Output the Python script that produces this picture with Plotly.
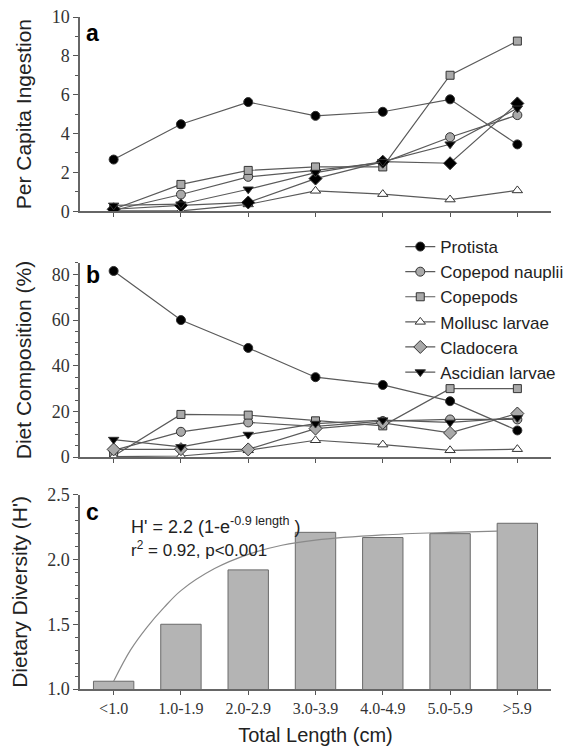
import plotly.graph_objects as go

categories = ["<1.0", "1.0-1.9", "2.0-2.9", "3.0-3.9", "4.0-4.9", "5.0-5.9", ">5.9"]
series_names = ["Protista", "Copepod nauplii", "Copepods", "Mollusc larvae", "Cladocera", "Ascidian larvae"]

# Panel a: per capita ingestion
ing_protista = [2.66, 4.48, 5.62, 4.91, 5.12, 5.76, 3.44]
ing_nauplii = [0.05, 0.86, 1.77, 2.10, 2.50, 3.81, 4.95]
ing_copepods = [0.10, 1.38, 2.10, 2.28, 2.28, 7.00, 8.76]
ing_mollusc = [0.02, 0.02, 0.35, 1.05, 0.88, 0.60, 1.07]
ing_cladocera = [0.10, 0.30, 0.45, 1.68, 2.55, 2.47, 5.55]
ing_ascidian = [0.30, 0.36, 1.13, 1.99, 2.55, 3.45, 5.30]

# Panel b: diet composition (%)
diet_protista = [81.5, 60.0, 47.8, 35.0, 31.6, 24.5, 11.7]
diet_nauplii = [3.0, 11.1, 15.2, 13.5, 15.8, 16.5, 16.5]
diet_copepods = [0.5, 18.7, 18.4, 15.9, 13.7, 30.0, 30.0]
diet_mollusc = [0.2, 0.5, 3.0, 7.4, 5.5, 3.0, 3.5]
diet_cladocera = [3.4, 3.5, 3.4, 12.5, 15.0, 10.6, 19.1]
diet_ascidian = [7.7, 4.5, 9.9, 14.7, 16.2, 15.2, 17.2]

# Panel c: dietary diversity
diversity = [1.06, 1.50, 1.92, 2.21, 2.17, 2.20, 2.28]
# fitted curve (x in category positions)
fit_x = [0, 0.25, 0.5, 0.75, 1, 1.5, 2, 2.5, 3, 4, 5, 5.7]
fit_y = [1.06, 1.30, 1.48, 1.63, 1.76, 1.93, 2.04, 2.11, 2.15, 2.19, 2.21, 2.22]

xs = list(range(len(categories)))

LINE = "#5a5a5a"
GRAY = "#a9a9a9"
styles = {
    "Protista": dict(symbol="circle", color="black", size=9),
    "Copepod nauplii": dict(symbol="circle", color=GRAY, size=9),
    "Copepods": dict(symbol="square", color=GRAY, size=8),
    "Mollusc larvae": dict(symbol="triangle-up", color="white", size=9),
    "Cladocera": dict(symbol="diamond", color=GRAY, size=10),
    "Ascidian larvae": dict(symbol="triangle-down", color="black", size=9),
}

fig = go.Figure()

ing = [ing_protista, ing_nauplii, ing_copepods, ing_mollusc, ing_cladocera, ing_ascidian]
diet = [diet_protista, diet_nauplii, diet_copepods, diet_mollusc, diet_cladocera, diet_ascidian]

for name, vals in zip(series_names, ing):
    st = dict(styles[name])
    if name == "Cladocera":
        st["color"] = "black"
    fig.add_trace(go.Scatter(
        x=xs, y=vals, mode="lines+markers", name=name, showlegend=False,
        xaxis="x", yaxis="y",
        line=dict(color=LINE, width=1.2),
        marker=dict(symbol=st["symbol"], color=st["color"], size=st["size"],
                    line=dict(color="#333333", width=1)),
    ))

for name, vals in zip(series_names, diet):
    st = styles[name]
    fig.add_trace(go.Scatter(
        x=xs, y=vals, mode="lines+markers", name=name, showlegend=True,
        xaxis="x2", yaxis="y2",
        line=dict(color=LINE, width=1.2),
        marker=dict(symbol=st["symbol"], color=st["color"], size=st["size"],
                    line=dict(color="#333333", width=1)),
    ))

fig.add_trace(go.Scatter(
    x=fit_x, y=fit_y, mode="lines", line=dict(color="#8a8a8a", width=1.2, shape="spline"),
    showlegend=False, xaxis="x3", yaxis="y3",
))
fig.add_trace(go.Bar(
    x=xs, y=diversity, base=0, width=0.6, showlegend=False, xaxis="x3", yaxis="y3",
    marker=dict(color="#b4b4b4", line=dict(color="#6a6a6a", width=1)),
))

ytickfont = dict(family="Liberation Serif", size=18, color="#333333")
xtickfont = dict(family="Liberation Serif", size=16, color="#333333")
titlefont = dict(family="Liberation Sans", size=21, color="#222222")

def xax(domain_anchor, show_labels):
    return dict(
        domain=[0, 1], anchor=domain_anchor, range=[-0.5, 6.5], automargin=False,
        tickmode="array", tickvals=xs, ticktext=categories if show_labels else [""] * 7,
        showticklabels=show_labels, ticks="outside", ticklen=4, tickcolor="#555",
        showline=True, linecolor="#666666", linewidth=1.5, showgrid=False, zeroline=False,
        tickfont=xtickfont,
    )

def yax(domain, anchor, rng, dtick, minor, title, fmt=None):
    d = dict(
        domain=domain, anchor=anchor, range=rng, dtick=dtick, tick0=rng[0], automargin=False,
        ticks="outside", ticklen=5, tickcolor="#555", showline=True, linecolor="#666666", linewidth=1.5,
        showgrid=False, zeroline=False, tickfont=ytickfont,
        minor=dict(dtick=minor, ticks="outside", ticklen=3, tickcolor="#555"),
        title=dict(text=title, font=titlefont, standoff=14),
    )
    if fmt:
        d["tickformat"] = fmt
    return d

fig.update_layout(
    width=580, height=748,
    margin=dict(l=80, r=15, t=17, b=59),
    paper_bgcolor="white", plot_bgcolor="white",
    barmode="overlay",
    xaxis=xax("y", False),
    xaxis2=xax("y2", False),
    xaxis3=dict(xax("y3", True), title=dict(text="Total Length (cm)", font=dict(titlefont, size=20), standoff=12)),
    yaxis=yax([0.711, 1.0], "x", [0, 10], 2, 1, "Per Capita Ingestion"),
    yaxis2=yax([0.345, 0.634], "x2", [0, 85], 20, 5, "Diet Composition (%)"),
    yaxis3=yax([0, 0.289], "x3", [1.0, 2.5], 0.5, 0.1, "Dietary Diversity (H')", ".1f"),
    legend=dict(
        x=0.68, y=0.6845, xanchor="left", yanchor="top",
        font=dict(family="Liberation Sans", size=17, color="#222222"),
        bgcolor="rgba(0,0,0,0)", tracegroupgap=0,
    ),
    annotations=[
        dict(text="<b>a</b>", x=0.027, y=0.976, xref="paper", yref="paper", xanchor="center", yanchor="middle",
             showarrow=False, font=dict(family="Liberation Sans", size=23, color="black")),
        dict(text="<b>b</b>", x=0.027, y=0.616, xref="paper", yref="paper", xanchor="center", yanchor="middle",
             showarrow=False, font=dict(family="Liberation Sans", size=23, color="black")),
        dict(text="<b>c</b>", x=0.027, y=0.264, xref="paper", yref="paper", xanchor="center", yanchor="middle",
             showarrow=False, font=dict(family="Liberation Sans", size=23, color="black")),
        dict(text="H' = 2.2 (1-e<sup>-0.9 length</sup> )", x=0.103, y=0.243, xref="paper", yref="paper",
             xanchor="left", yanchor="middle", showarrow=False,
             font=dict(family="Liberation Sans", size=18, color="#222222")),
        dict(text="r<sup>2</sup> = 0.92, p<0.001", x=0.103, y=0.208, xref="paper", yref="paper",
             xanchor="left", yanchor="middle", showarrow=False,
             font=dict(family="Liberation Sans", size=17, color="#222222")),
    ],
)

fig.write_html("out.html")
